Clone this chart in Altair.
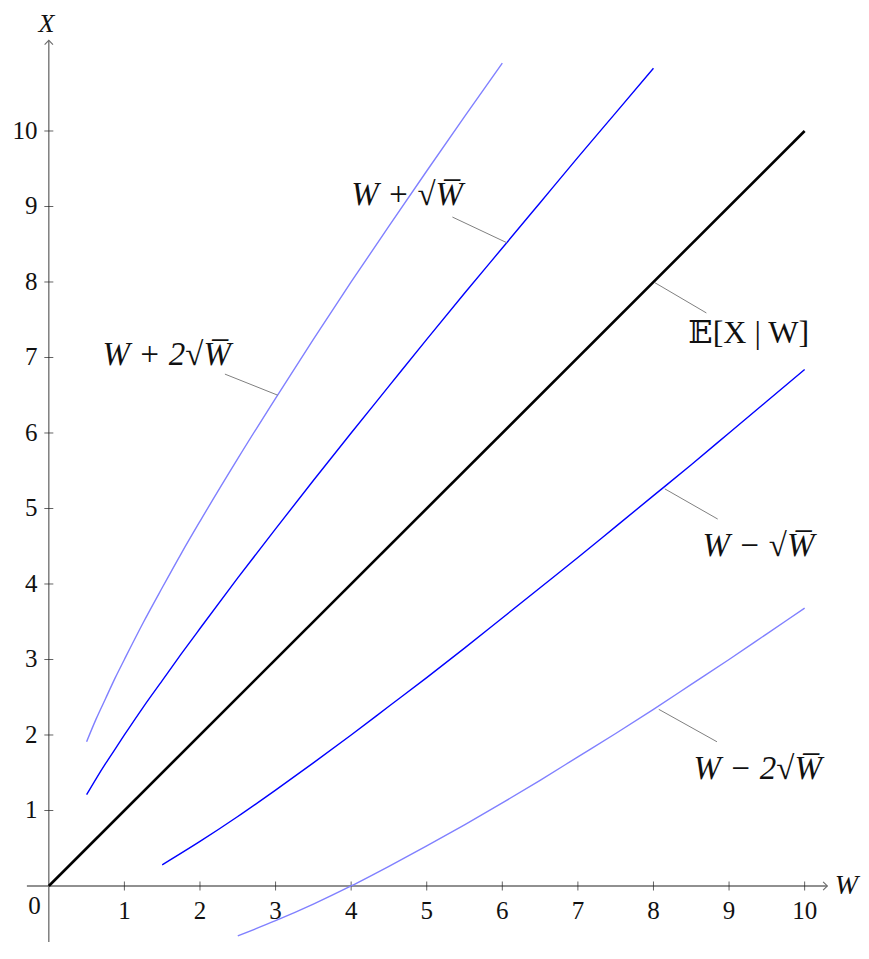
import altair as alt
import pandas as pd

# ---- data ----
w_p2 = [0.5, 0.625, 0.75, 0.875, 1, 1.25, 1.5, 1.75, 2, 2.5, 3, 3.5, 4, 4.5, 5, 5.5, 6]
x_p2 = [1.91, 2.21, 2.48, 2.75, 3.00, 3.49, 3.95, 4.40, 4.83, 5.66, 6.46, 7.24, 8.00, 8.74, 9.47, 10.19, 10.90]

w_p1 = [0.5, 0.625, 0.75, 0.875, 1, 1.25, 1.5, 1.75, 2, 2.5, 3, 3.5, 4, 4.5, 5, 5.5, 6, 6.5, 7, 7.5, 8]
x_p1 = [1.21, 1.42, 1.62, 1.81, 2.00, 2.37, 2.72, 3.07, 3.41, 4.08, 4.73, 5.37, 6.00, 6.62, 7.24, 7.85,
        8.45, 9.05, 9.65, 10.24, 10.83]

w_mean = [0, 10]
x_mean = [0, 10]

w_m1 = [1.5, 2, 2.5, 3, 3.5, 4, 4.5, 5, 5.5, 6, 6.5, 7, 7.5, 8, 8.5, 9, 9.5, 10]
x_m1 = [0.28, 0.59, 0.92, 1.27, 1.63, 2.00, 2.38, 2.76, 3.15, 3.55, 3.95, 4.35, 4.76, 5.17, 5.58, 6.00, 6.42, 6.84]

w_m2 = [2.5, 3, 3.5, 4, 4.5, 5, 5.5, 6, 6.5, 7, 7.5, 8, 8.5, 9, 9.5, 10]
x_m2 = [-0.66, -0.46, -0.24, 0.00, 0.26, 0.53, 0.81, 1.10, 1.40, 1.71, 2.02, 2.34, 2.67, 3.00, 3.34, 3.68]

tick_vals = [1, 2, 3, 4, 5, 6, 7, 8, 9, 10]

label_text = ["W + 2√W̅", "W + √W̅", "W − √W̅", "W − 2√W̅"]
label_x = [1.56, 4.74, 9.39, 9.38]
label_y = [7.03, 9.15, 4.50, 1.55]
mean_text = ["𝔼[X | W]"]
mean_x = [9.26]
mean_y = [7.32]
pin_x1 = [2.33, 5.34, 8.70, 8.85, 8.84]
pin_y1 = [6.78, 8.86, 7.59, 4.86, 1.91]
pin_x2 = [3.03, 6.06, 8.02, 8.15, 8.07]
pin_y2 = [6.50, 8.52, 7.99, 5.26, 2.34]

XDOM = [-0.54, 10.587]
YDOM = [-0.742, 11.576]
xs = alt.Scale(domain=XDOM, nice=False, zero=False)
ys = alt.Scale(domain=YDOM, nice=False, zero=False)
AX = "#6b6b6b"
FONT = "Liberation Serif, DejaVu Serif, serif"


def X(f="x"):
    return alt.X(f"{f}:Q", scale=xs, axis=None)


def Y(f="y"):
    return alt.Y(f"{f}:Q", scale=ys, axis=None)


layers = []

# axes lines
axes_df = pd.DataFrame({"x": [-0.29, 0.0], "x2": [10.3, 0.0], "y": [0.0, -0.742], "y2": [0.0, 11.2]})
layers.append(alt.Chart(axes_df).mark_rule(color=AX, strokeWidth=1.3).encode(
    x=X(), x2="x2:Q", y=Y(), y2="y2:Q"))

# arrow heads
arr_r = pd.DataFrame({"x": [10.3], "y": [0.0]})
layers.append(alt.Chart(arr_r).mark_point(shape="M-1,-1L0,0L-1,1", size=70, filled=False,
                                          stroke=AX, strokeWidth=1.1, opacity=1).encode(x=X(), y=Y()))
arr_u = pd.DataFrame({"x": [0.0], "y": [11.2]})
layers.append(alt.Chart(arr_u).mark_point(shape="M-1,1L0,0L1,1", size=70, filled=False,
                                          stroke=AX, strokeWidth=1.1, opacity=1).encode(x=X(), y=Y()))

# ticks
xt = pd.DataFrame({"x": tick_vals, "y": [0.0] * len(tick_vals)})
layers.append(alt.Chart(xt).mark_tick(orient="vertical", size=9, thickness=1, color="#222").encode(x=X(), y=Y()))
yt = pd.DataFrame({"x": [0.0] * len(tick_vals), "y": tick_vals})
layers.append(alt.Chart(yt).mark_tick(orient="horizontal", size=9, thickness=1, color="#222").encode(x=X(), y=Y()))

# tick labels
xl = pd.DataFrame({"x": tick_vals, "y": [-0.33] * len(tick_vals), "t": [str(v) for v in tick_vals]})
layers.append(alt.Chart(xl).mark_text(font=FONT, fontSize=25, color="#111", align="center", baseline="middle").encode(
    x=X(), y=Y(), text="t:N"))
yl = pd.DataFrame({"x": [-0.15] * len(tick_vals), "y": tick_vals, "t": [str(v) for v in tick_vals]})
layers.append(alt.Chart(yl).mark_text(font=FONT, fontSize=25, color="#111", align="right", baseline="middle").encode(
    x=X(), y=Y(), text="t:N"))
zl = pd.DataFrame({"x": [-0.19], "y": [-0.27], "t": ["0"]})
layers.append(alt.Chart(zl).mark_text(font=FONT, fontSize=25, color="#111", align="center", baseline="middle").encode(
    x=X(), y=Y(), text="t:N"))

# axis titles
atw = pd.DataFrame({"x": [10.40], "y": [0.0], "t": ["W"]})
layers.append(alt.Chart(atw).mark_text(font=FONT, fontSize=28, fontStyle="italic", color="#111",
                                       align="left", baseline="middle").encode(x=X(), y=Y(), text="t:N"))
atx = pd.DataFrame({"x": [-0.03], "y": [11.42], "t": ["X"]})
layers.append(alt.Chart(atx).mark_text(font=FONT, fontSize=26, fontStyle="italic", color="#111",
                                       align="center", baseline="middle").encode(x=X(), y=Y(), text="t:N"))

# curves
def curve(ws, xv, color, width):
    df = pd.DataFrame({"x": ws, "y": xv})
    return alt.Chart(df).mark_line(color=color, strokeWidth=width, interpolate="monotone").encode(
        x=X(), y=Y(), order="x:Q")

layers.append(curve(w_p2, x_p2, "#8080ff", 1.4))
layers.append(curve(w_p1, x_p1, "#0000ff", 1.4))
layers.append(curve(w_m1, x_m1, "#0000ff", 1.4))
layers.append(curve(w_m2, x_m2, "#8080ff", 1.4))
layers.append(curve(w_mean, x_mean, "#000000", 2.6))

# pins
pins = pd.DataFrame({"x": pin_x1, "y": pin_y1, "x2": pin_x2, "y2": pin_y2})
layers.append(alt.Chart(pins).mark_rule(color="#808080", strokeWidth=1).encode(
    x=X(), y=Y(), x2="x2:Q", y2="y2:Q"))

# labels
labs = pd.DataFrame({"x": label_x, "y": label_y, "t": label_text})
layers.append(alt.Chart(labs).mark_text(font=FONT, fontSize=33, fontStyle="italic", color="#111",
                                        align="center", baseline="middle").encode(
    x=X(), y=Y(), text="t:N"))
mlab = pd.DataFrame({"x": mean_x, "y": mean_y, "t": mean_text})
layers.append(alt.Chart(mlab).mark_text(font=FONT, fontSize=32, color="#111",
                                        align="center", baseline="middle").encode(
    x=X(), y=Y(), text="t:N"))

chart = alt.layer(*layers).properties(
    width=841, height=930,
    padding={"left": 0, "top": 4, "right": 12, "bottom": 0},
    autosize=alt.AutoSizeParams(type="none"),
).configure_view(stroke=None)

chart.save("out.html", embed_options={"renderer": "svg", "actions": False})
